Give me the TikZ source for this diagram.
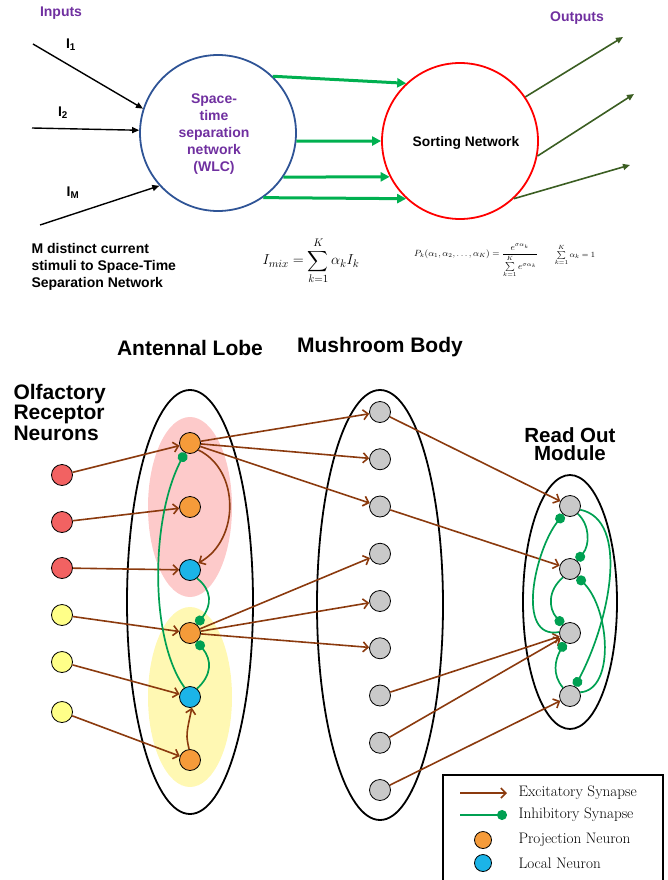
\documentclass[tikz,border=0pt]{standalone}
\usepackage{fontspec}
\usepackage{amsmath}
\newfontfamily\arialf{Liberation Sans}
\usetikzlibrary{arrows.meta,shapes.geometric}
\definecolor{purp}{HTML}{7030A0}
\definecolor{wlcblue}{HTML}{2F5496}
\definecolor{brgreen}{HTML}{00B050}
\definecolor{dkgreen}{HTML}{3B5E22}
\definecolor{exc}{HTML}{8B3A0E}
\definecolor{inh}{HTML}{00A052}
\definecolor{pnorange}{HTML}{F59B3A}
\definecolor{lnblue}{HTML}{1BB4E8}
\definecolor{ornred}{HTML}{F26262}
\definecolor{ornyel}{HTML}{FFFF88}
\definecolor{kcgray}{HTML}{C9C9C9}
\definecolor{pinkreg}{HTML}{FDCACA}
\definecolor{yelreg}{HTML}{FFF8B3}
\tikzset{
  neuron/.style={circle,draw=black,line width=0.8pt,minimum size=21pt,inner sep=0pt},
  pn/.style={neuron,fill=pnorange},
  lnn/.style={neuron,fill=lnblue},
  ornr/.style={neuron,fill=ornred},
  orny/.style={neuron,fill=ornyel},
  kc/.style={neuron,fill=kcgray},
  excit/.style={draw=exc,line width=1.6pt,-{Straight Barb[length=5pt,width=10pt]}},
  inhib/.style={draw=inh,line width=1.7pt,-{Circle[length=10pt]}},
  lobe/.style={ellipse,draw=black,line width=1.8pt,inner sep=0pt},
  region/.style={ellipse,inner sep=0pt,draw=none},
  inarrow/.style={draw=black,line width=1.4pt,-{Triangle[length=7pt,width=6pt]}},
  grarrow/.style={draw=brgreen,line width=3pt,-{Triangle[length=9pt,width=9pt]}},
  outarrow/.style={draw=dkgreen,line width=1.6pt,-{Triangle[length=7pt,width=6pt]}},
  toptext/.style={font=\arialf\bfseries\fontsize{14}{17}\selectfont},
  head/.style={font=\arialf\bfseries\fontsize{21}{20.5}\selectfont},
  legtext/.style={anchor=west,font=\fontsize{15.2}{16}\selectfont},
}
\begin{document}
\begin{tikzpicture}[x=1pt,y=-1pt]
\useasboundingbox (0,0) rectangle (668,880);
% ---------- top part ----------
\node[toptext,text=purp] (inputs) at (61,13) {Inputs};
\node[toptext,text=purp] (outputs) at (577,18) {Outputs};
\node[circle,draw=wlcblue,line width=1.8pt,minimum size=156pt,inner sep=0pt] (wlc) at (218,133) {};
\node[toptext,text=purp,align=center] (wlctext) at (214,134) {Space-\\time\\separation\\network\\(WLC)};
\node[circle,draw=red,line width=1.8pt,minimum size=156pt,inner sep=0pt] (sort) at (460,141) {};
\node[toptext,font=\arialf\bfseries\fontsize{13.8}{16}\selectfont] (sorttext) at (466,143) {Sorting Network};
\coordinate (i1s) at (33,44);
\coordinate (i2s) at (32,128);
\coordinate (ims) at (40,225);
\node[toptext] (l1) at (71,45) {I\textsubscript{1}};
\node[toptext] (l2) at (63,113) {I\textsubscript{2}};
\node[toptext] (lm) at (73,193) {I\textsubscript{M}};
\draw[inarrow] (i1s) -- (wlc.162);
\draw[inarrow] (i2s) -- (wlc.178);
\draw[inarrow] (ims) -- (wlc.222);
\draw[grarrow] (wlc.46) -- (sort.133);
\draw[grarrow] (wlc.354) -- (sort.180);
\draw[grarrow] (wlc.326) -- (sort.207);
\draw[grarrow] (wlc.305) -- (sort.227);
\coordinate (o1e) at (623,37);
\coordinate (o2e) at (634,94);
\coordinate (o3e) at (630,165);
\draw[outarrow] (sort.34) -- (o1e);
\draw[outarrow] (sort.349) -- (o2e);
\draw[outarrow] (sort.313) -- (o3e);
\node[toptext,align=left,anchor=west] (mdist) at (28,267) {M distinct current\\stimuli to Space-Time\\Separation Network};
\node[inner sep=0pt] (fmix) at (311,261) {\fontsize{15}{17}\selectfont$\displaystyle I_{mix}=\sum_{k=1}^{K}\alpha_k I_k$};
\node[inner sep=0pt] (fpk) at (476,261) {\fontsize{9}{10}\selectfont$P_k(\alpha_1,\alpha_2,\dots,\alpha_K)=\dfrac{e^{\sigma\alpha_k}}{\sum\limits_{k=1}^{K} e^{\sigma\alpha_k}}$};
\node[inner sep=0pt] (fsum) at (575,255) {\fontsize{8}{9}\selectfont$\sum\limits_{k=1}^{K}\alpha_k=1$};
% ---------- bottom part ----------
\node[head] (altitle) at (190,348) {Antennal Lobe};
\node[head] (mbtitle) at (380,347) {Mushroom Body};
\node[head,align=left,anchor=west] (orntitle) at (10,412) {Olfactory\\Receptor\\Neurons};
\node[head,align=center,inner sep=0pt,font=\arialf\bfseries\fontsize{20.5}{18}\selectfont] (rotitle) at (570,444) {Read Out\\Module};
% regions
\node[region,fill=pinkreg,minimum width=84pt,minimum height=180pt] (pinkr) at (190,507) {};
\node[region,fill=yelreg,minimum width=84pt,minimum height=180pt] (yelr) at (190,697) {};
\node[lobe,minimum width=126pt,minimum height=424pt] (al) at (190,602) {};
\node[lobe,minimum width=126pt,minimum height=430pt] (mb) at (380,605) {};
\node[lobe,minimum width=94pt,minimum height=254pt] (ro) at (570,602) {};
% neurons
\node[ornr] (o1) at (62,475) {};
\node[ornr] (o2) at (62,522) {};
\node[ornr] (o3) at (62,568) {};
\node[orny] (o4) at (62,615) {};
\node[orny] (o5) at (62,662) {};
\node[orny] (o6) at (62,712) {};
\node[pn] (a1) at (190,443) {};
\node[pn] (a2) at (190,507) {};
\node[lnn] (a3) at (190,570) {};
\node[pn] (a4) at (190,633) {};
\node[lnn] (a5) at (190,697) {};
\node[pn] (a6) at (190,760) {};
\foreach \i in {1,...,9}{
  \node[kc] (m\i) at (380,{412+47.25*(\i-1)}) {};
}
\node[kc] (r1) at (570,506) {};
\node[kc] (r2) at (570,569) {};
\node[kc] (r3) at (570,633) {};
\node[kc] (r4) at (570,696) {};
% excitatory
\foreach \i in {1,...,6}{ \draw[excit] (o\i) -- (a\i); }
\draw[excit] (a1) -- (m1);
\draw[excit] (a1) -- (m2);
\draw[excit] (a1) -- (m3);
\draw[excit] (a4) -- (m4);
\draw[excit] (a4) -- (m5);
\draw[excit] (a4) -- (m6);
\draw[excit] (m1) -- (r1);
\draw[excit] (m3) -- (r2);
\draw[excit] (m7) -- (r3);
\draw[excit] (m8) -- (r3);
\draw[excit] (m9) -- (r4);
\draw[excit] (a1.-40) .. controls (240,470) and (240,540) .. (a3.40);
\draw[excit] (a6.95) .. controls (186,735) .. (a5.-80);
% inhibitory AL
\draw[inhib] (a5.120) .. controls (150,640) and (150,520) .. (a1);
\draw[inhib] (a3.-50) .. controls (212,590) and (212,605) .. (a4);
\draw[inhib] (a5.50) .. controls (212,675) and (212,660) .. (a4);
% inhibitory RO
\draw[inhib] (r3.175) .. controls (515,640) and (535,550) .. (r1);
\draw[inhib] (r1.-45) .. controls (590,525) and (590,545) .. (r2);
\draw[inhib] (r2.-130) .. controls (548,590) and (548,608) .. (r3);
\draw[inhib] (r1.-20) .. controls (630,520) and (610,620) .. (r4);
\draw[inhib] (r4.20) .. controls (615,690) and (610,610) .. (r2);
\draw[inhib] (r4.130) .. controls (552,675) and (555,660) .. (r3);
% legend
\draw[line width=1.8pt] (443,775) rectangle (663,884);
\coordinate (le1) at (460,793);
\coordinate (le2) at (507,793);
\coordinate (li1) at (460,815);
\coordinate (li2) at (507,815);
\draw[excit] (le1) -- (le2);
\draw[inhib] (li1) -- (li2);
\node[pn,minimum size=17pt] (lpn) at (483,840) {};
\node[lnn,minimum size=17pt] (lln) at (483,863) {};
\node[legtext] (t1) at (515,793) {Excitatory Synapse};
\node[legtext] (t2) at (515,815) {Inhibitory Synapse};
\node[legtext] (t3) at (515,840) {Projection Neuron};
\node[legtext] (t4) at (515,863) {Local Neuron};
\end{tikzpicture}
\end{document}
